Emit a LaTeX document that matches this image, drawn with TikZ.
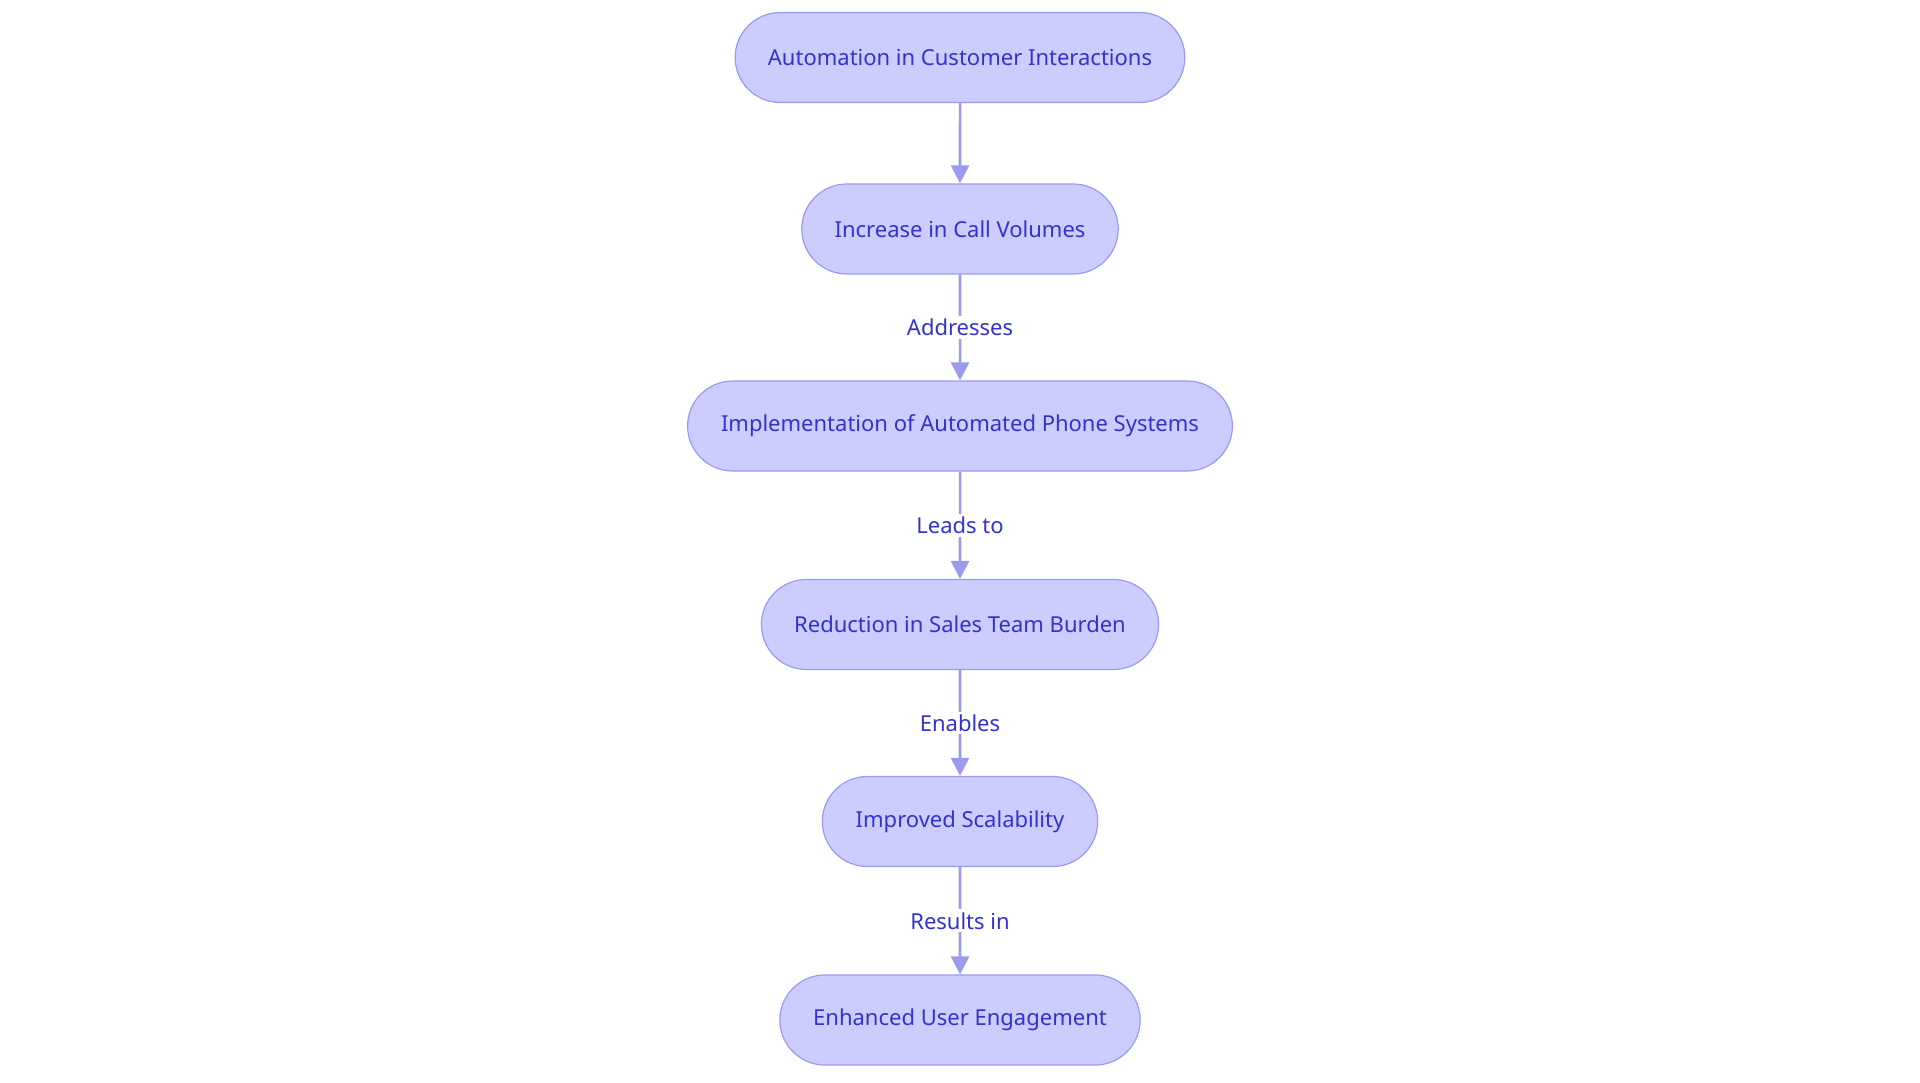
\documentclass[tikz,border=0pt]{standalone}
\usepackage{fontspec}
\setmainfont{Noto Sans}
\usetikzlibrary{positioning, shapes.misc, arrows.meta}
\definecolor{boxfill}{HTML}{CCCCFF}
\definecolor{boxline}{HTML}{9B9BEE}
\definecolor{boxtext}{HTML}{3333CC}
\tikzset{stage/.style={rounded rectangle, draw=boxline, fill=boxfill, line width=1.2pt,
  minimum height=90pt, inner xsep=32pt, text=boxtext, font=\fontsize{22}{26}\selectfont},
  flow/.style={draw=boxline, line width=2.6pt, -{Triangle[length=18pt, width=18pt]}},
  tag/.style={fill=white, text=boxtext, font=\fontsize{22}{26}\selectfont, inner sep=3pt}}

\begin{document}
\begin{tikzpicture}[x=1pt, y=1pt]
\useasboundingbox (0,0) rectangle (1920,-1083);
\node [stage] (auto) at (960,-57.5){Automation in Customer Interactions};
\node [stage] (calls) at (960,-229){Increase in Call Volumes};
\node [stage] (phone) at (960,-426){Implementation of Automated Phone Systems};
\node [stage] (sales) at (960,-624.5){Reduction in Sales Team Burden};
\node [stage] (scale) at (960,-821.5){Improved Scalability};
\node [stage] (user) at (960,-1020){Enhanced User Engagement};

\draw [flow] (auto)--(calls);
\draw [flow] (calls)-- node[tag]{Addresses} (phone);
\draw [flow] (phone)-- node[tag]{Leads to} (sales);
\draw [flow] (sales)-- node[tag]{Enables} (scale);
\draw [flow] (scale)-- node[tag]{Results in} (user);
\end{tikzpicture}
\end{document}
